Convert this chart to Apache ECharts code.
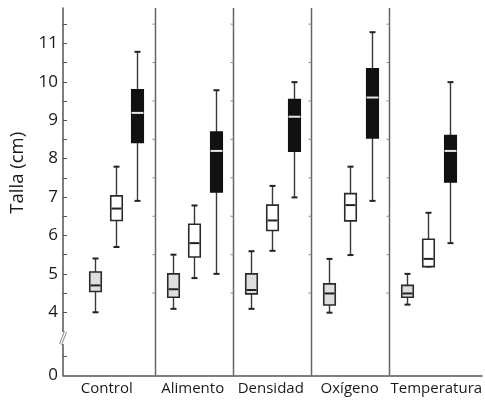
<!DOCTYPE html>
<html>
<head>
<meta charset="utf-8">
<script src="https://cdn.jsdelivr.net/npm/echarts@6/dist/echarts.min.js"></script>
<style>
  html, body { margin: 0; padding: 0; background: #fff; }
  #main { width: 485px; height: 401px; }
</style>
</head>
<body>
<div id="main"></div>
<script>
// grupos (eje x)
var categories = ['Control', 'Alimento', 'Densidad', 'Oxígeno', 'Temperatura'];
// [grupo, min, q1, mediana, q3, max]  (talla en cm)
var grisStats = [
  [0, 4.00, 4.54, 4.70, 5.05, 5.40],
  [1, 4.09, 4.39, 4.60, 5.00, 5.50],
  [2, 4.09, 4.48, 4.58, 5.00, 5.59],
  [3, 3.99, 4.19, 4.49, 4.74, 5.39],
  [4, 4.20, 4.39, 4.49, 4.70, 5.00]
];
var blancoStats = [
  [0, 5.70, 6.39, 6.70, 7.03, 7.79],
  [1, 4.89, 5.44, 5.80, 6.29, 6.78],
  [2, 5.60, 6.13, 6.39, 6.79, 7.29],
  [3, 5.49, 6.38, 6.79, 7.09, 7.79],
  [4, 5.19, 5.19, 5.39, 5.90, 6.59]
];
var negroStats = [
  [0, 6.90, 8.42, 9.19, 9.79, 10.78],
  [1, 5.00, 7.13, 8.20, 8.69, 9.78],
  [2, 6.99, 8.19, 9.09, 9.54, 9.99],
  [3, 6.90, 8.54, 9.59, 10.34, 11.29],
  [4, 5.80, 7.39, 8.20, 8.60, 9.99]
];
// separadores entre grupos
var separadores = [[0.5], [1.5], [2.5], [3.5]];
// etiquetas y marcas del eje y (el "0" va debajo del corte)
var yCero = 2.355;
var yLabels = [yCero, 4, 5, 6, 7, 8, 9, 10, 11];
var yTicks = [2.845, 4, 4.5, 5, 5.5, 6, 6.5, 7, 7.5, 8, 8.5, 9, 9.5, 10, 10.5, 11, 11.5];
var sepTicks = [4.5, 5.5, 6.5, 7.5, 8.5, 9.5, 10.5, 11.5];
var xLabelPos = [-0.12, 0.98, 1.98, 2.99, 4.10];

var yMin = yCero, yMax = 11.92;
var xMin = -0.6815, xMax = 4.6865;
var fontFam = '"Open Sans", "Noto Sans", sans-serif';

// dibuja una caja: offset dentro del grupo, colores
function boxRenderer(offset, fill, stroke, medColor, medInset) {
  return function (params, api) {
    var x = api.value(0) + offset;
    var pMin = api.coord([x, api.value(1)]);
    var pQ1 = api.coord([x, api.value(2)]);
    var pMed = api.coord([x, api.value(3)]);
    var pQ3 = api.coord([x, api.value(4)]);
    var pMax = api.coord([x, api.value(5)]);
    var cx = Math.round(pMin[0]) + 0.5;
    var hw = 5.75, cw = 3;
    var wStyle = { stroke: '#3a3a3a', lineWidth: 1.4 };
    var cStyle = { stroke: '#222', lineWidth: 2 };
    return {
      type: 'group',
      children: [
        { type: 'line', shape: { x1: cx, y1: pMax[1], x2: cx, y2: pQ3[1] }, style: wStyle },
        { type: 'line', shape: { x1: cx, y1: pQ1[1], x2: cx, y2: pMin[1] }, style: wStyle },
        { type: 'line', shape: { x1: cx - cw, y1: pMax[1], x2: cx + cw, y2: pMax[1] }, style: cStyle },
        { type: 'line', shape: { x1: cx - cw, y1: pMin[1], x2: cx + cw, y2: pMin[1] }, style: cStyle },
        { type: 'rect', shape: { x: cx - hw, y: pQ3[1], width: 2 * hw, height: pQ1[1] - pQ3[1] },
          style: { fill: fill, stroke: stroke, lineWidth: 1.6 } },
        { type: 'line', shape: { x1: cx - hw + medInset, y1: pMed[1], x2: cx + hw - medInset, y2: pMed[1] },
          style: { stroke: medColor, lineWidth: 2 } }
      ]
    };
  };
}

// separadores verticales con sus marquitas
function sepRenderer(params, api) {
  var top = api.coord([api.value(0), yMax]);
  var bot = api.coord([api.value(0), yMin]);
  var x = Math.round(top[0]) + 0.5;
  var kids = [{ type: 'line', shape: { x1: x, y1: top[1], x2: x, y2: bot[1] },
    style: { stroke: '#666', lineWidth: 1.5 } }];
  for (var i = 0; i < sepTicks.length; i++) {
    var p = api.coord([api.value(0), sepTicks[i]]);
    kids.push({ type: 'line', shape: { x1: x - 3, y1: p[1], x2: x, y2: p[1] },
      style: { stroke: '#888', lineWidth: 1 } });
  }
  return { type: 'group', children: kids };
}

var chart = echarts.init(document.getElementById('main'));
var option = {
  animation: false,
  grid: { left: 62, right: 0, top: 8, bottom: 25.5, containLabel: false },
  xAxis: {
    type: 'value', min: xMin, max: xMax,
    axisLine: { show: true, onZero: false, lineStyle: { color: '#555', width: 1.5 } },
    axisTick: { show: false },
    splitLine: { show: false },
    axisLabel: {
      customValues: xLabelPos,
      margin: 6,
      fontFamily: fontFam, fontSize: 15, color: '#1a1a1a',
      formatter: function (v) { return categories[Math.round(v)] || ''; }
    }
  },
  yAxis: {
    type: 'value', min: yMin, max: yMax,
    name: 'Talla (cm)', nameLocation: 'middle', nameGap: 36,
    nameTextStyle: { fontFamily: fontFam, fontSize: 18.5, color: '#1a1a1a', padding: [0, 0, 0, 38] },
    axisLine: { show: true, onZero: false, lineStyle: { color: '#555', width: 1.5 } },
    axisTick: { show: true, inside: true, length: 4, customValues: yTicks, lineStyle: { color: '#555', width: 1 } },
    splitLine: { show: false },
    axisLabel: {
      customValues: yLabels,
      margin: 5,
      fontFamily: fontFam, fontSize: 17, color: '#1a1a1a',
      formatter: function (v) { return v < 3 ? '0' : String(v); }
    }
  },
  series: [
    { type: 'custom', name: 'sep', renderItem: sepRenderer, data: separadores, encode: { x: 0 }, silent: true, z: 1 },
    { type: 'custom', name: 'gris', renderItem: boxRenderer(-0.277, '#dedede', '#2a2a2a', '#222', 0.8),
      data: grisStats, encode: { x: 0, y: [1, 2, 3, 4, 5] }, z: 3 },
    { type: 'custom', name: 'blanco', renderItem: boxRenderer(0, '#ffffff', '#2a2a2a', '#222', 0.8),
      data: blancoStats, encode: { x: 0, y: [1, 2, 3, 4, 5] }, z: 3 },
    { type: 'custom', name: 'negro', renderItem: boxRenderer(0.272, '#111111', '#111', '#e8e8e8', -0.2),
      data: negroStats, encode: { x: 0, y: [1, 2, 3, 4, 5] }, z: 3 }
  ]
};
chart.setOption(option);

// marca de corte del eje y
var pb = chart.convertToPixel({ gridIndex: 0 }, [xMin, 3.33]);
var ax = pb[0], ay = pb[1];
chart.setOption({
  graphic: [
    { type: 'rect', shape: { x: ax - 3, y: ay - 6, width: 6, height: 12 }, style: { fill: '#fff' }, z: 100 },
    { type: 'line', shape: { x1: ax - 3.5, y1: ay + 6, x2: ax + 1.5, y2: ay - 7 }, style: { stroke: '#888', lineWidth: 1 }, z: 101 },
    { type: 'line', shape: { x1: ax - 1.5, y1: ay + 7, x2: ax + 3.5, y2: ay - 6 }, style: { stroke: '#888', lineWidth: 1 }, z: 101 }
  ]
});
</script>
</body>
</html>
